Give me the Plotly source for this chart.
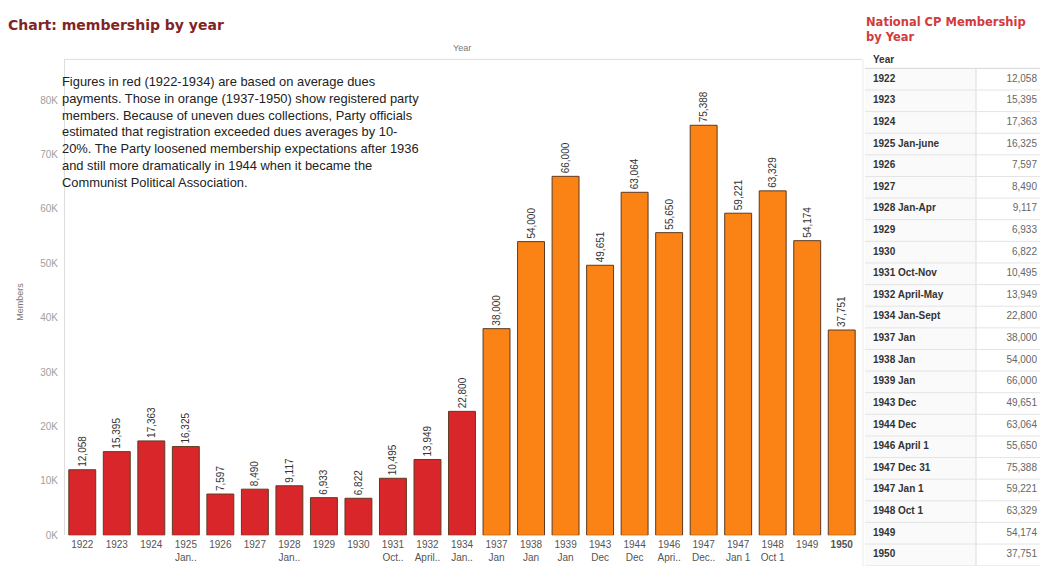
import plotly.graph_objects as go

# ---- data ----
categories = ["1922", "1923", "1924", "1925<br>Jan..", "1926", "1927", "1928<br>Jan..",
              "1929", "1930", "1931<br>Oct..", "1932<br>April..", "1934<br>Jan..",
              "1937<br>Jan", "1938<br>Jan", "1939<br>Jan", "1943<br>Dec", "1944<br>Dec",
              "1946<br>Apri..", "1947<br>Dec..", "1947<br>Jan 1", "1948<br>Oct 1",
              "1949", "<b>1950</b>"]
members = [12058, 15395, 17363, 16325, 7597, 8490, 9117, 6933, 6822, 10495, 13949, 22800,
           38000, 54000, 66000, 49651, 63064, 55650, 75388, 59221, 63329, 54174, 37751]
source = ["dues"] * 12 + ["registered"] * 11

table_years = ["1922", "1923", "1924", "1925 Jan-june", "1926", "1927", "1928 Jan-Apr",
               "1929", "1930", "1931 Oct-Nov", "1932 April-May", "1934 Jan-Sept",
               "1937 Jan", "1938 Jan", "1939 Jan", "1943 Dec", "1944 Dec",
               "1946 April 1", "1947 Dec 31", "1947 Jan 1", "1948 Oct 1", "1949", "1950"]

y_ticks = [0, 10000, 20000, 30000, 40000, 50000, 60000, 70000, 80000]

note = ("Figures in red (1922-1934) are based on average dues<br>"
        "payments. Those in orange (1937-1950) show registered party<br>"
        "members. Because of uneven dues collections, Party officials<br>"
        "estimated that registration exceeded dues averages by 10-<br>"
        "20%. The Party loosened membership expectations after 1936<br>"
        "and still more dramatically in 1944 when it became the<br>"
        "Communist Political Association.")

# ---- layout helpers (reference pixel coordinates -> paper fractions) ----
W, H = 1042, 577


def px(x):
    return x / W


def py(y):
    return 1 - y / H


color_map = {"dues": "#d9262b", "registered": "#fb8214"}
bar_colors = [color_map[s] for s in source]
n_rows = len(table_years)
row_idx = list(range(n_rows))
ROW_H = 21.85

fig = go.Figure()
fig.add_trace(go.Bar(
    x=categories, y=members,
    marker=dict(color=bar_colors, line=dict(color="#5e3b22", width=1)),
    texttemplate="%{y:,}", textposition="outside", textangle=-90,
    constraintext="none", cliponaxis=False,
    textfont=dict(size=10, color="#333333", family="Liberation Sans, Arial"),
    showlegend=False, hoverinfo="x+y",
))

# table (right side) drawn on its own axes
fig.add_trace(go.Scatter(
    x=[873] * n_rows, y=row_idx, mode="text",
    text=["<b>" + t + "</b>" for t in table_years], textposition="middle right",
    textfont=dict(size=10, color="#333333", family="Liberation Sans, Arial"),
    xaxis="x2", yaxis="y2", showlegend=False, hoverinfo="skip", cliponaxis=False,
))
fig.add_trace(go.Scatter(
    x=[1037] * n_rows, y=row_idx, mode="text",
    text=[f"{v:,}" for v in members], textposition="middle left",
    textfont=dict(size=10, color="#666666", family="Liberation Sans, Arial"),
    xaxis="x2", yaxis="y2", showlegend=False, hoverinfo="skip", cliponaxis=False,
))
fig.add_trace(go.Scatter(
    x=[873], y=[-0.85], mode="text", text=["<b>Year</b>"], textposition="middle right",
    textfont=dict(size=10, color="#333333", family="Liberation Sans, Arial"),
    xaxis="x2", yaxis="y2", showlegend=False, hoverinfo="skip", cliponaxis=False,
))

shapes = [
    dict(type="line", xref="paper", yref="paper", x0=px(65), x1=px(862),
         y0=py(60), y1=py(60), line=dict(color="#dddddd", width=1)),
    dict(type="rect", xref="x2", yref="y2", x0=865, x1=976, y0=-0.5, y1=n_rows - 0.5,
         fillcolor="#fafafa", line=dict(width=0), layer="below"),
    dict(type="line", xref="x2", yref="y2", x0=976, x1=976, y0=-0.5, y1=n_rows - 0.5,
         line=dict(color="#dcdcdc", width=1)),
    dict(type="line", xref="paper", yref="paper", x0=px(863), x1=px(863),
         y0=py(60), y1=py(573), line=dict(color="#ececec", width=1)),
]
for i in range(-1, n_rows):
    shapes.append(dict(type="line", xref="x2", yref="y2", x0=865, x1=1040,
                       y0=i + 0.5, y1=i + 0.5,
                       line=dict(color="#e4e4e4" if i >= 0 else "#d6d6d6", width=1)))

fig.update_layout(
    width=W, height=H, margin=dict(l=0, r=0, t=0, b=0),
    paper_bgcolor="white", plot_bgcolor="white",
    bargap=0.22,
    font=dict(family="Liberation Sans, Arial", color="#555555"),
    xaxis=dict(domain=[px(65), px(859)], showgrid=False, showline=False, ticks="",
               tickfont=dict(size=10, color="#555555"), ticklabelstandoff=2, fixedrange=True),
    yaxis=dict(domain=[py(541), py(60)], range=[0, 87500], showgrid=False, zeroline=False,
               showline=True, linecolor="#dddddd", linewidth=1, ticks="",
               tickvals=y_ticks, ticktext=[f"{v // 1000}K" for v in y_ticks],
               ticklabelstandoff=4,
               tickfont=dict(size=10, color="#a0a0a0")),
    xaxis2=dict(domain=[px(865), px(1040)], range=[865, 1040], visible=False,
                anchor="y2", fixedrange=True),
    yaxis2=dict(domain=[py(80 + 22.5 * ROW_H), py(80 - 1.5 * ROW_H)],
                range=[n_rows - 0.5, -1.5], visible=False, anchor="x2", fixedrange=True),
    shapes=shapes,
    annotations=[
        dict(text="<b>Chart: membership by year</b>", xref="paper", yref="paper",
             x=px(6), y=py(25), xanchor="left", yanchor="middle", showarrow=False,
             font=dict(size=14, color="#7f2526", family="DejaVu Sans, Verdana")),
        dict(text="Year", xref="paper", yref="paper", x=px(462), y=py(48),
             xanchor="center", yanchor="middle", showarrow=False,
             font=dict(size=9, color="#777777")),
        dict(text="Members", xref="paper", yref="paper", x=px(20), y=py(305),
             textangle=-90, xanchor="center", yanchor="middle", showarrow=False,
             font=dict(size=9, color="#777777")),
        dict(text=note, xref="paper", yref="paper", x=px(60), y=py(73),
             xanchor="left", yanchor="top", align="left", showarrow=False,
             font=dict(size=12.9, color="#222222", family="Liberation Sans, Arial")),
        dict(text="<b>National CP Membership<br>by Year</b>", xref="paper", yref="paper",
             x=px(864), y=py(13), xanchor="left", yanchor="top", align="left",
             showarrow=False,
             font=dict(size=11.5, color="#d23b3b", family="DejaVu Sans, Verdana")),
    ],
)

fig.write_html("out.html", config={"displayModeBar": False},
               post_script="document.body.style.margin='0';document.body.style.overflow='hidden';")
